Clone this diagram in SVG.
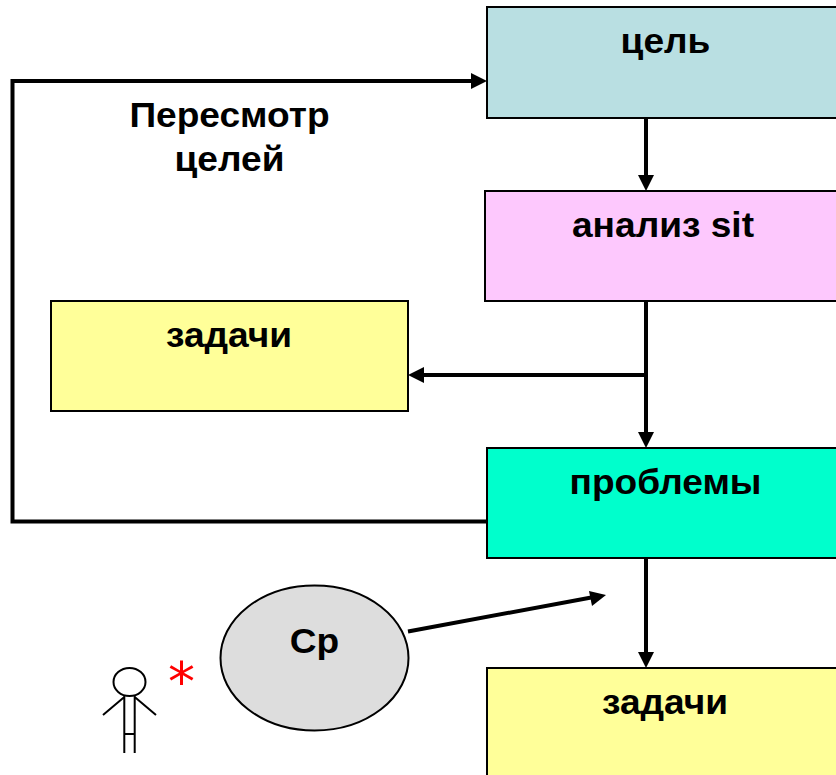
<svg xmlns="http://www.w3.org/2000/svg" width="836" height="775" viewBox="0 0 836 775">
<style>
.box{stroke:#000;stroke-width:2}
.t{font-family:"Liberation Sans",Arial,sans-serif;font-weight:700;font-size:35px;fill:#000;text-anchor:middle}
.c{fill:none;stroke:#000;stroke-width:4}
.f{fill:none;stroke:#000;stroke-width:2}
</style>
<rect width="836" height="775" fill="#fff"/>
<g id="connectors">
<path class="c" d="M486 521.500H12.500V81H474"/><polygon points="471,73 471,89 487,81"/>
<path class="c" d="M646 118V178"/><polygon points="638,175 654,175 646,191"/>
<path class="c" d="M646 301V435"/><polygon points="638,432 654,432 646,448"/>
<path class="c" d="M646 375H420"/><polygon points="424,367 424,383 408,375"/>
<path class="c" d="M646 558V655"/><polygon points="638,652 654,652 646,668"/>
<path class="c" d="M408 631.500L594 597"/><polygon points="589,591 592,606 606,595"/>
</g>
<g id="goal"><rect class="box" x="487" y="7" width="352" height="111" fill="#b9dfe2"/><text class="t" transform="translate(665.500 53) scale(1.06 1)">цель</text></g>
<g id="analysis"><rect class="box" x="485" y="191" width="354" height="110" fill="#fdc8fd"/><text class="t" transform="translate(663 237) scale(1.06 1)">анализ sit</text></g>
<g id="tasks1"><rect class="box" x="51" y="301" width="357" height="110" fill="#ffff99"/><text class="t" transform="translate(229 347) scale(1.06 1)">задачи</text></g>
<g id="problems"><rect class="box" x="487" y="448" width="352" height="110" fill="#00ffcc"/><text class="t" transform="translate(665.500 494) scale(1.06 1)">проблемы</text></g>
<g id="tasks2"><rect class="box" x="487" y="668" width="352" height="110" fill="#ffff99"/><text class="t" transform="translate(665 714) scale(1.06 1)">задачи</text></g>
<g id="revise"><text class="t" transform="translate(229.500 127) scale(1.06 1)">Пересмотр</text><text class="t" transform="translate(229.500 171) scale(1.06 1)">целей</text></g>
<g id="cp"><ellipse class="box" cx="314.500" cy="658" rx="94" ry="72.500" fill="#dddddd"/><text class="t" transform="translate(314.500 653) scale(1.06 1)">Ср</text></g>
<g id="person">
<ellipse class="f" cx="129.500" cy="682" rx="16" ry="14"/>
<path class="f" d="M124.300 696V753M134.700 696V753M124.300 734H134.700M124.300 697L103 715M134.700 697L156 715"/>
</g>
<g id="star"><text x="181.500" y="700" font-family="'DejaVu Sans',sans-serif" font-size="54" fill="#ff0000" text-anchor="middle">*</text></g>
</svg>
